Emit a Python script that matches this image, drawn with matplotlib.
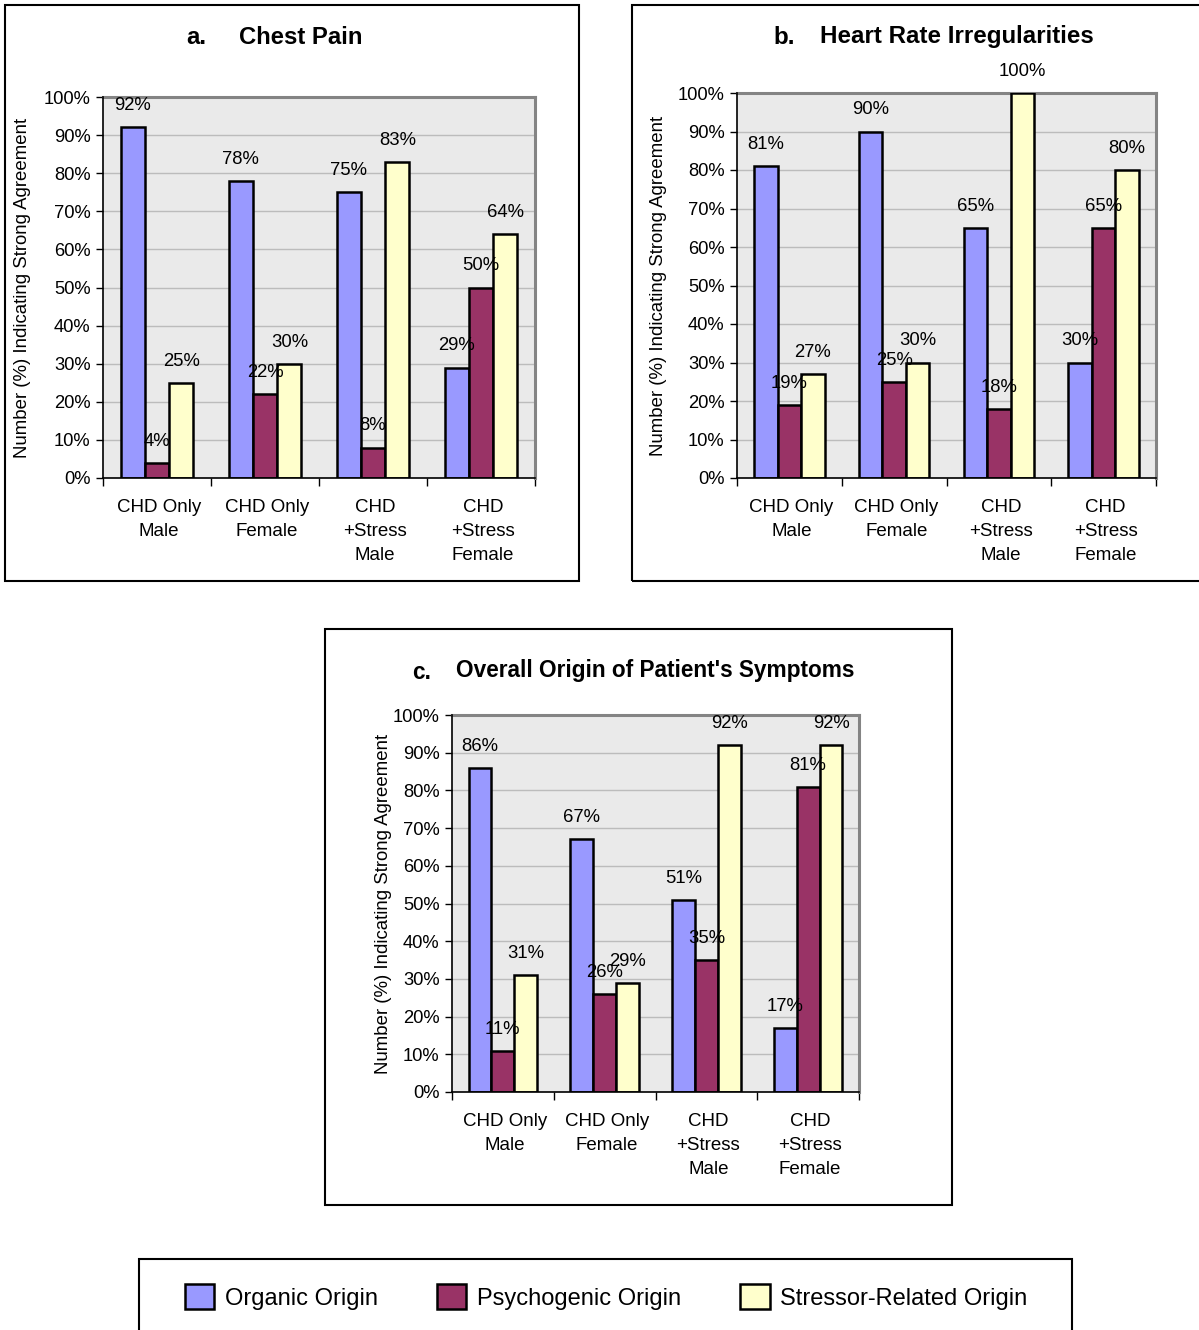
import matplotlib
matplotlib.use("Agg")
import matplotlib.pyplot as plt
from matplotlib.patches import Rectangle
from matplotlib.ticker import FixedLocator, FuncFormatter
import numpy as np

plt.rcParams['font.family'] = ['Liberation Sans', 'DejaVu Sans']

# ---- data -------------------------------------------------------------
categories = ["CHD Only\nMale", "CHD Only\nFemale", "CHD\n+Stress\nMale", "CHD\n+Stress\nFemale"]
series_names = ["Organic Origin", "Psychogenic Origin", "Stressor-Related Origin"]
series_colors = ["#9999FF", "#993366", "#FFFFCC"]

chest_organic = [92, 78, 75, 29]
chest_psychogenic = [4, 22, 8, 50]
chest_stressor = [25, 30, 83, 64]

heart_organic = [81, 90, 65, 30]
heart_psychogenic = [19, 25, 18, 65]
heart_stressor = [27, 30, 100, 80]

overall_organic = [86, 67, 51, 17]
overall_psychogenic = [11, 26, 35, 81]
overall_stressor = [31, 29, 92, 92]

y_ticks = list(range(0, 101, 10))
y_label = "Number (%) Indicating Strong Agreement"

# ---- layout helpers (pixel boxes) -------------------------------------
W, H = 1199, 1330
fig = plt.figure(figsize=(W / 100, H / 100), dpi=100)


def fbox(l, t, r, b):
    return [l / W, 1 - b / H, (r - l) / W, (b - t) / H]


def frame(l, t, r, b, lw=1.5):
    fig.patches.append(Rectangle((l / W, 1 - b / H), (r - l) / W, (b - t) / H,
                                 transform=fig.transFigure, fill=False,
                                 edgecolor="black", linewidth=lw, zorder=0))


def panel(plot_box, frame_box, letter_xy, title_xy, letter, title, title_size,
          ylabel_x, series):
    frame(*frame_box)
    ax = fig.add_axes(fbox(*plot_box))
    ax.set_facecolor("#eaeaea")
    n = len(categories)
    x = np.arange(n)
    w = 0.225
    bars = []
    for i, (vals, col) in enumerate(zip(series, series_colors)):
        xs = x + (i - 1) * w
        b = ax.bar(xs, vals, width=w, color=col, edgecolor="black",
                   linewidth=1.8, zorder=3, label=series_names[i])
        bars.append(b)
        for xi, v in zip(xs, vals):
            ax.annotate(f"{v}%", (xi, v), xytext=(0, 15.5), textcoords="offset points",
                        ha="center", va="center", fontsize=13.3, zorder=5,
                        annotation_clip=False)
    ax.set_xlim(-0.5, n - 0.5)
    ax.set_ylim(0, 100)
    ax.set_axisbelow(True)
    ax.yaxis.set_major_locator(FixedLocator(y_ticks))
    ax.yaxis.set_major_formatter(FuncFormatter(lambda v, p: f"{int(v)}%"))
    ax.grid(axis="y", color="#bcbcbc", linewidth=1.0, zorder=0)
    ax.tick_params(axis="y", direction="out", length=5, width=1, pad=4,
                   labelsize=13.2, color="black")
    ax.set_xticks(x + 0.02)
    ax.set_xticklabels(categories, fontsize=13.5, linespacing=1.55)
    ax.tick_params(axis="x", which="major", length=0, pad=15)
    ax.set_xticks(np.arange(-0.5, n, 1.0), minor=True)
    ax.tick_params(axis="x", which="minor", direction="out", length=6, width=1, color="black")
    for s in ("top", "right"):
        ax.spines[s].set_color("#848484")
        ax.spines[s].set_linewidth(2.2)
    for s in ("left", "bottom"):
        ax.spines[s].set_color("black")
        ax.spines[s].set_linewidth(1.2)
        ax.spines[s].set_zorder(4)
    cy = (plot_box[1] + plot_box[3]) / 2
    fig.text(ylabel_x / W, 1 - cy / H, y_label, rotation=90, ha="center",
             va="center", fontsize=13.4)
    fig.text(letter_xy[0] / W, 1 - letter_xy[1] / H, letter, ha="left",
             va="center", fontsize=title_size, fontweight="bold")
    fig.text(title_xy[0] / W, 1 - title_xy[1] / H, title, ha="left",
             va="center", fontsize=title_size, fontweight="bold")
    return bars


panel((103, 97, 535, 478), (5, 5, 579, 581), (186, 38), (239, 38),
      "a.", "Chest Pain", 17.2, 23,
      [chest_organic, chest_psychogenic, chest_stressor])

panel((737, 93, 1156, 478), (632, 5, 1215, 581), (773, 37), (820, 37),
      "b.", "Heart Rate Irregularities", 17.4, 659,
      [heart_organic, heart_psychogenic, heart_stressor])

bars_c = panel((452, 715, 859, 1092), (325, 629, 952, 1205), (412, 673), (456, 671),
               "c.", "Overall Origin of Patient's Symptoms", 16.3, 384,
               [overall_organic, overall_psychogenic, overall_stressor])

# ---- legend ------------------------------------------------------------
frame(139, 1259, 1072, 1345)
fig.legend([b[0] for b in bars_c], series_names, loc="center",
           bbox_to_anchor=(606 / W, 1 - 1297 / H), ncol=3, frameon=False,
           fontsize=17, handlelength=1.25, handleheight=1.25,
           handletextpad=0.45, columnspacing=2.5)

fig.savefig("out.png", dpi=100)
